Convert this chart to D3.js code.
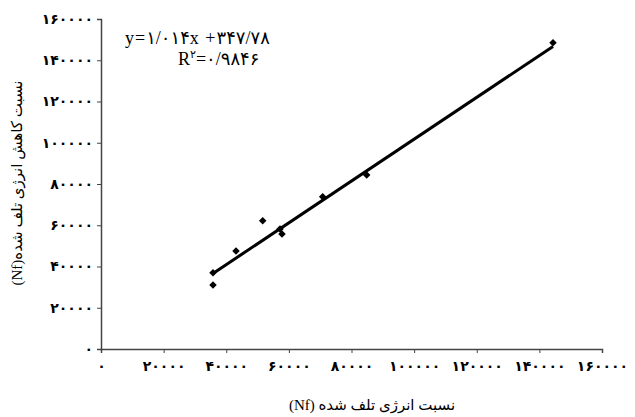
<!DOCTYPE html>
<html>
<head>
<meta charset="utf-8">
<script src="https://cdn.jsdelivr.net/npm/d3@7"></script>
<style>
  body { margin: 0; background: #fff; }
  text { font-family: "Liberation Serif", "DejaVu Sans", serif; }
</style>
</head>
<body>
<div id="root"></div>
<script>
// data
var xValues = [35768, 35768, 43114, 51640, 57166, 57804, 70802, 84853, 144351];
var yValues = [36994, 31030, 47515, 62206, 58182, 55758, 73842, 84364, 148509];
var xTicks = [0, 20000, 40000, 60000, 80000, 100000, 120000, 140000, 160000];
var yTicks = [0, 20000, 40000, 60000, 80000, 100000, 120000, 140000, 160000];
var trend = [1.014, 347.78]; // slope, intercept
var r2 = 0.9846;

var width = 635;
var height = 417;

var faDigits = '۰۱۲۳۴۵۶۷۸۹';
function fa(s) {
  return String(s).replace(/[0-9]/g, function(d) { return faDigits[+d]; }).replace(/\./g, '/');
}

var x = d3.scaleLinear().domain([0, 160000]).range([101, 602]);
var y = d3.scaleLinear().domain([0, 160000]).range([349, 19]);

var svg = d3.select('#root')
  .append('svg')
    .attr('width', width)
    .attr('height', height);

// axes
var yAxis = svg.append('g')
  .attr('transform', 'translate(' + x(0) + ',0)')
  .call(d3.axisLeft(y).tickValues(yTicks).tickSize(4).tickPadding(4).tickFormat(fa));
var xAxis = svg.append('g')
  .attr('transform', 'translate(0,' + y(0) + ')')
  .call(d3.axisBottom(x).tickValues(xTicks).tickSize(4).tickPadding(8).tickFormat(fa));

[xAxis, yAxis].forEach(function(g) {
  g.select('.domain').attr('stroke', '#444').attr('stroke-width', 1.5);
  g.selectAll('.tick line').attr('stroke', '#444');
  g.selectAll('text')
    .attr('fill', '#000')
    .style('font-size', '14px')
    .style('font-weight', 'bold')
    .style('font-family', '"DejaVu Sans", sans-serif');
});

// trend line
var x0 = d3.min(xValues), x1 = d3.max(xValues);
svg.append('line')
  .attr('x1', x(x0))
  .attr('y1', y(trend[0] * x0 + trend[1]))
  .attr('x2', x(x1))
  .attr('y2', y(trend[0] * x1 + trend[1]))
  .attr('stroke', '#000')
  .attr('stroke-width', 3);

// points
var pts = xValues.map(function(v, i) { return {x: v, y: yValues[i]}; });
svg.selectAll('path.pt')
  .data(pts)
  .enter()
  .append('path')
    .attr('class', 'pt')
    .attr('d', d3.symbol(d3.symbolSquare, 28))
    .attr('transform', function(d) { return 'translate(' + x(d.x) + ',' + y(d.y) + ') rotate(45)'; })
    .attr('fill', '#000');

// equation
svg.append('text')
  .attr('x', 125)
  .attr('y', 44)
  .style('font-size', '18px')
  .style('letter-spacing', '1px')
  .text('y=' + fa(trend[0]) + 'x +' + fa(trend[1]));

var r2t = svg.append('text')
  .attr('x', 178)
  .attr('y', 65)
  .style('font-size', '18px');
r2t.append('tspan').text('R');
r2t.append('tspan').attr('dy', -7).style('font-size', '11px').text('۲');
r2t.append('tspan').attr('dy', 7).text('=' + fa(r2));

// axis titles
svg.append('text')
  .attr('x', 372)
  .attr('y', 410)
  .attr('text-anchor', 'middle')
  .attr('direction', 'rtl')
  .style('font-size', '15px')
  .text('نسبت انرژی تلف شده (Nf)');

svg.append('text')
  .attr('transform', 'translate(22,183) rotate(-90)')
  .attr('text-anchor', 'middle')
  .attr('direction', 'rtl')
  .style('font-size', '15px')
  .text('نسبت کاهش انرژی تلف شده(Nf)');
</script>
</body>
</html>
